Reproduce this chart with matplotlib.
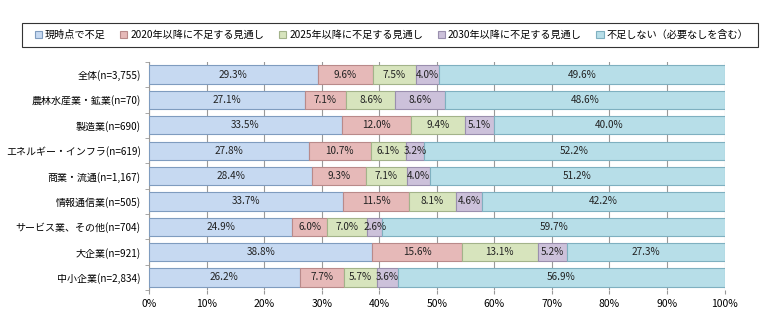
import matplotlib.pyplot as plt
import numpy as np
from matplotlib.patches import Patch, Rectangle

plt.rcParams['font.family'] = ['Noto Sans CJK JP', 'DejaVu Sans']

categories = ['全体(n=3,755)', '農林水産業・鉱業(n=70)', '製造業(n=690)',
              'エネルギー・インフラ(n=619)', '商業・流通(n=1,167)', '情報通信業(n=505)',
              'サービス業、その他(n=704)', '大企業(n=921)', '中小企業(n=2,834)']
series_names = ['現時点で不足', '2020年以降に不足する見通し', '2025年以降に不足する見通し',
                '2030年以降に不足する見通し', '不足しない（必要なしを含む）']
now = [29.3, 27.1, 33.5, 27.8, 28.4, 33.7, 24.9, 38.8, 26.2]
y2020 = [9.6, 7.1, 12.0, 10.7, 9.3, 11.5, 6.0, 15.6, 7.7]
y2025 = [7.5, 8.6, 9.4, 6.1, 7.1, 8.1, 7.0, 13.1, 5.7]
y2030 = [4.0, 8.6, 5.1, 3.2, 4.0, 4.6, 2.6, 5.2, 3.6]
never = [49.6, 48.6, 40.0, 52.2, 51.2, 42.2, 59.7, 27.3, 56.9]

colors = ['#c6d9f1', '#e6b9b8', '#d7e4bd', '#ccc1da', '#b7dee8']
edges = ['#7f9cbf', '#b98a8a', '#a3b38a', '#9a8fae', '#7fb0c0']

fig = plt.figure(figsize=(7.8, 3.26), dpi=100)
ax = fig.add_axes([0.191, 0.110, 0.738, 0.700])

y = np.arange(len(categories))
left = np.zeros(len(categories))
for vals, c, ec in zip([now, y2020, y2025, y2030, never], colors, edges):
    vals = np.array(vals)
    ax.barh(y, vals, left=left, height=0.72, color=c, edgecolor=ec, linewidth=0.8, zorder=3)
    for yi, l, v in zip(y, left, vals):
        ax.text(l + v / 2, yi, '%.1f%%' % v, ha='center', va='center', fontsize=7.2,
                color='#222222', zorder=4)
    left = left + vals

ax.set_xlim(0, 100)
ax.set_ylim(8.5, -0.5)
ax.set_xticks(np.arange(0, 101, 10))
ax.set_xticklabels(['%d%%' % t for t in range(0, 101, 10)], fontsize=7.5)
ax.set_yticks(y)
ax.set_yticklabels(categories, fontsize=7.2)
ax.tick_params(axis='y', length=0, pad=6)
ax.tick_params(axis='x', length=3, color='#999999')
ax.set_yticks(np.arange(-0.5, 9, 1), minor=True)
ax.tick_params(axis='y', which='minor', length=3, color='#999999')
ax.grid(axis='x', color='#999999', linewidth=0.8, zorder=0)
for s in ['top', 'right', 'bottom']:
    ax.spines[s].set_visible(False)
ax.spines['left'].set_color('#999999')

# legend box drawn separately so it spans like the original
fig.patches.append(Rectangle((22 / 780, 1 - 47 / 326), 736 / 780, 24 / 326,
                             transform=fig.transFigure, facecolor='white',
                             edgecolor='#333333', linewidth=0.8))
handles = [Patch(facecolor=c, edgecolor=ec, linewidth=0.8) for c, ec in zip(colors, edges)]
leg = fig.legend(handles, series_names, ncol=5, loc='center', bbox_to_anchor=(0.502, 0.892),
                 fontsize=7.3, frameon=False,
                 handlelength=0.7, handleheight=0.7, handletextpad=0.3, columnspacing=1.45)

fig.savefig('out.png', dpi=100)
